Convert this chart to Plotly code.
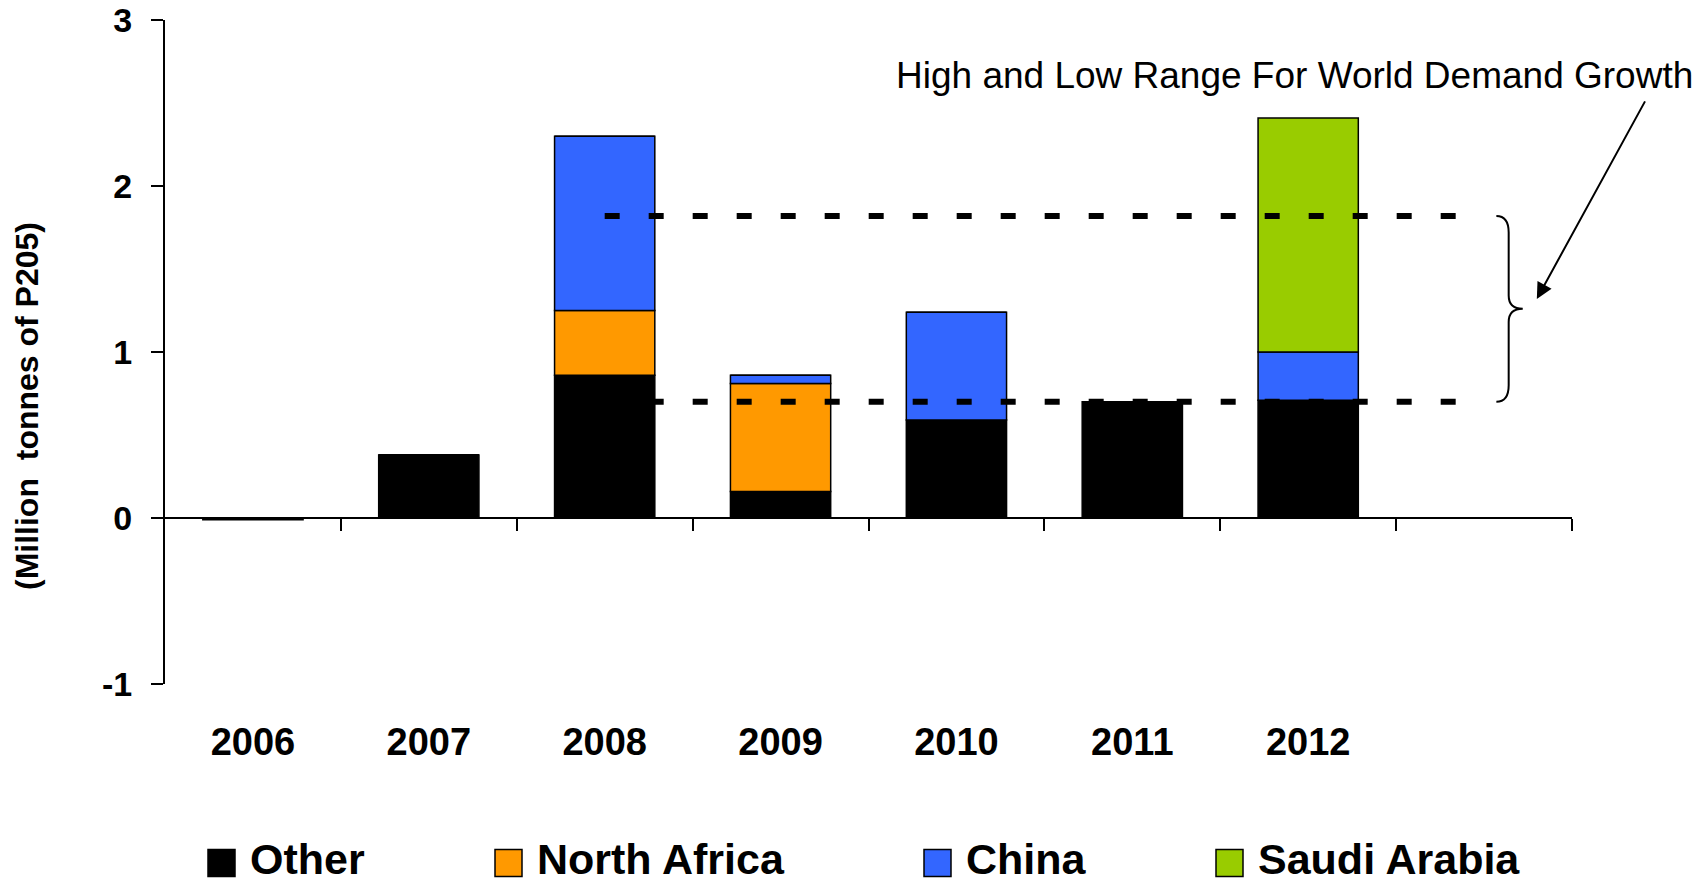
import plotly.graph_objects as go

# Annual growth in phosphate demand, split by region (million tonnes P2O5)
years = [2006, 2007, 2008, 2009, 2010, 2011, 2012]
year_labels = ["2006", "2007", "2008", "2009", "2010", "2011", "2012"]
other = [-0.01, 0.38, 0.86, 0.16, 0.59, 0.70, 0.71]
north_africa = [0.0, 0.0, 0.39, 0.65, 0.0, 0.0, 0.0]
china = [0.0, 0.0, 1.05, 0.05, 0.65, 0.0, 0.29]
saudi_arabia = [0.0, 0.0, 0.0, 0.0, 0.0, 0.0, 1.41]

series_names = ["Other", "North Africa", "China", "Saudi Arabia"]
series_values = [other, north_africa, china, saudi_arabia]
series_colors = ["#000000", "#FF9900", "#3366FF", "#99CC00"]

y_tick_values = [-1, 0, 1, 2, 3]
y_tick_labels = ["-1", "0", "1", "2", "3"]

# High / low world demand growth range
range_high = 1.82
range_low = 0.70
range_start_year = 2008
range_end_year = 2013

FONT = "Liberation Sans, Arial, sans-serif"

# plot area geometry (pixels) used for legend placement
W, H = 1698, 886
L, R, T, B = 165, 126, 20, 202
PW, PH = W - L - R, H - T - B


def px_to_paper_x(px):
    return (px - L) / PW


def px_to_paper_y(py):
    return (H - B - py) / PH


fig = go.Figure()

for name, vals, col in zip(series_names, series_values, series_colors):
    fig.add_trace(go.Bar(
        x=years, y=vals, name=name,
        marker=dict(color=col, line=dict(color="#000000", width=1.5)),
        width=0.57, showlegend=False,
    ))

# dashed range lines
for level in (range_high, range_low):
    fig.add_trace(go.Scatter(
        x=[range_start_year, range_end_year], y=[level, level],
        mode="lines", line=dict(color="#000000", width=6, dash="15px,29px"),
        showlegend=False, hoverinfo="skip",
    ))

# brace to the right of the range lines
bx0 = range_end_year + 0.07
bxv = range_end_year + 0.14
bxt = range_end_year + 0.22
mid = (range_high + range_low) / 2
d = 0.1
brace = (
    f"M {bx0},{range_high} Q {bxv},{range_high} {bxv},{range_high - d} "
    f"L {bxv},{mid + d * 0.8} Q {bxv},{mid} {bxt},{mid} "
    f"Q {bxv},{mid} {bxv},{mid - d * 0.8} "
    f"L {bxv},{range_low + d} Q {bxv},{range_low} {bx0},{range_low}"
)
fig.add_shape(type="path", path=brace, xref="x", yref="y",
              line=dict(color="#000000", width=2))

# annotation text + arrow
fig.add_annotation(
    x=px_to_paper_x(894), xref="paper", y=2.668, yref="y",
    text="High and Low Range For World Demand Growth",
    showarrow=False, xanchor="left", yanchor="middle",
    font=dict(family=FONT, size=37, color="#000000"),
)
fig.add_annotation(
    x=range_end_year + 0.30, y=1.32, xref="x", yref="y",
    ax=109, ay=-199, text="", showarrow=True,
    arrowhead=2, arrowsize=1.6, arrowwidth=2, arrowcolor="#000000",
)

# y-axis title
fig.add_annotation(
    x=px_to_paper_x(27), xref="paper", y=px_to_paper_y(406), yref="paper",
    text="<b>(Million  tonnes of P205)</b>", textangle=-90, showarrow=False,
    xanchor="center", yanchor="middle",
    font=dict(family=FONT, size=32, color="#000000"),
)

# legend drawn as boxes + labels
legend_box_left = [208, 495, 924, 1216]
box = 27
legend_cy = 859
for name, col, bx in zip(series_names, series_colors, legend_box_left):
    fig.add_shape(
        type="rect", xref="paper", yref="paper",
        x0=px_to_paper_x(bx), x1=px_to_paper_x(bx + box),
        y0=px_to_paper_y(legend_cy + 4 + box / 2), y1=px_to_paper_y(legend_cy + 4 - box / 2),
        fillcolor=col, line=dict(color="#000000", width=1.5),
    )
    fig.add_annotation(
        x=px_to_paper_x(bx + box + 14), xref="paper",
        y=px_to_paper_y(legend_cy), yref="paper",
        text=f"<b>{name}</b>", showarrow=False, xanchor="left", yanchor="middle",
        font=dict(family=FONT, size=43, color="#000000"),
        borderpad=0,
    )

boundaries = [y + 0.5 for y in years] + [range_end_year + 0.5]

fig.update_layout(
    width=W, height=H,
    margin=dict(l=L, r=R, t=T, b=B, autoexpand=False),
    barmode="relative",
    plot_bgcolor="#FFFFFF", paper_bgcolor="#FFFFFF",
    font=dict(family=FONT, color="#000000"),
    showlegend=False,
    xaxis=dict(
        range=[years[0] - 0.5, range_end_year + 0.5],
        anchor="free", position=0.25, automargin=False,
        showline=True, linecolor="#000000", linewidth=2,
        tickmode="array", tickvals=boundaries, ticks="outside",
        ticklen=12, tickwidth=2, tickcolor="#000000",
        showticklabels=False, showgrid=False, zeroline=False,
    ),
    xaxis2=dict(
        overlaying="x", matches="x", anchor="y", side="bottom",
        automargin=False,
        tickmode="array", tickvals=years, ticktext=year_labels,
        ticks="", showline=False, showgrid=False, zeroline=False,
        ticklabelstandoff=32,
        tickfont=dict(family=FONT, size=38, color="#000000", weight="bold"),
    ),
    yaxis=dict(
        range=[-1, 3], tickmode="array", automargin=False,
        tickvals=y_tick_values, ticktext=y_tick_labels,
        ticklabeloverflow="allow",
        showline=True, linecolor="#000000", linewidth=2,
        ticks="outside", ticklen=12, tickwidth=2, tickcolor="#000000",
        showgrid=False, zeroline=False, ticklabelstandoff=12,
        tickfont=dict(family=FONT, size=34, color="#000000", weight="bold"),
    ),
)

# dummy trace so the label axis is drawn
fig.add_trace(go.Scatter(x=[years[0]], y=[None], xaxis="x2", yaxis="y",
                         showlegend=False, hoverinfo="skip"))

fig.write_html("out.html")
